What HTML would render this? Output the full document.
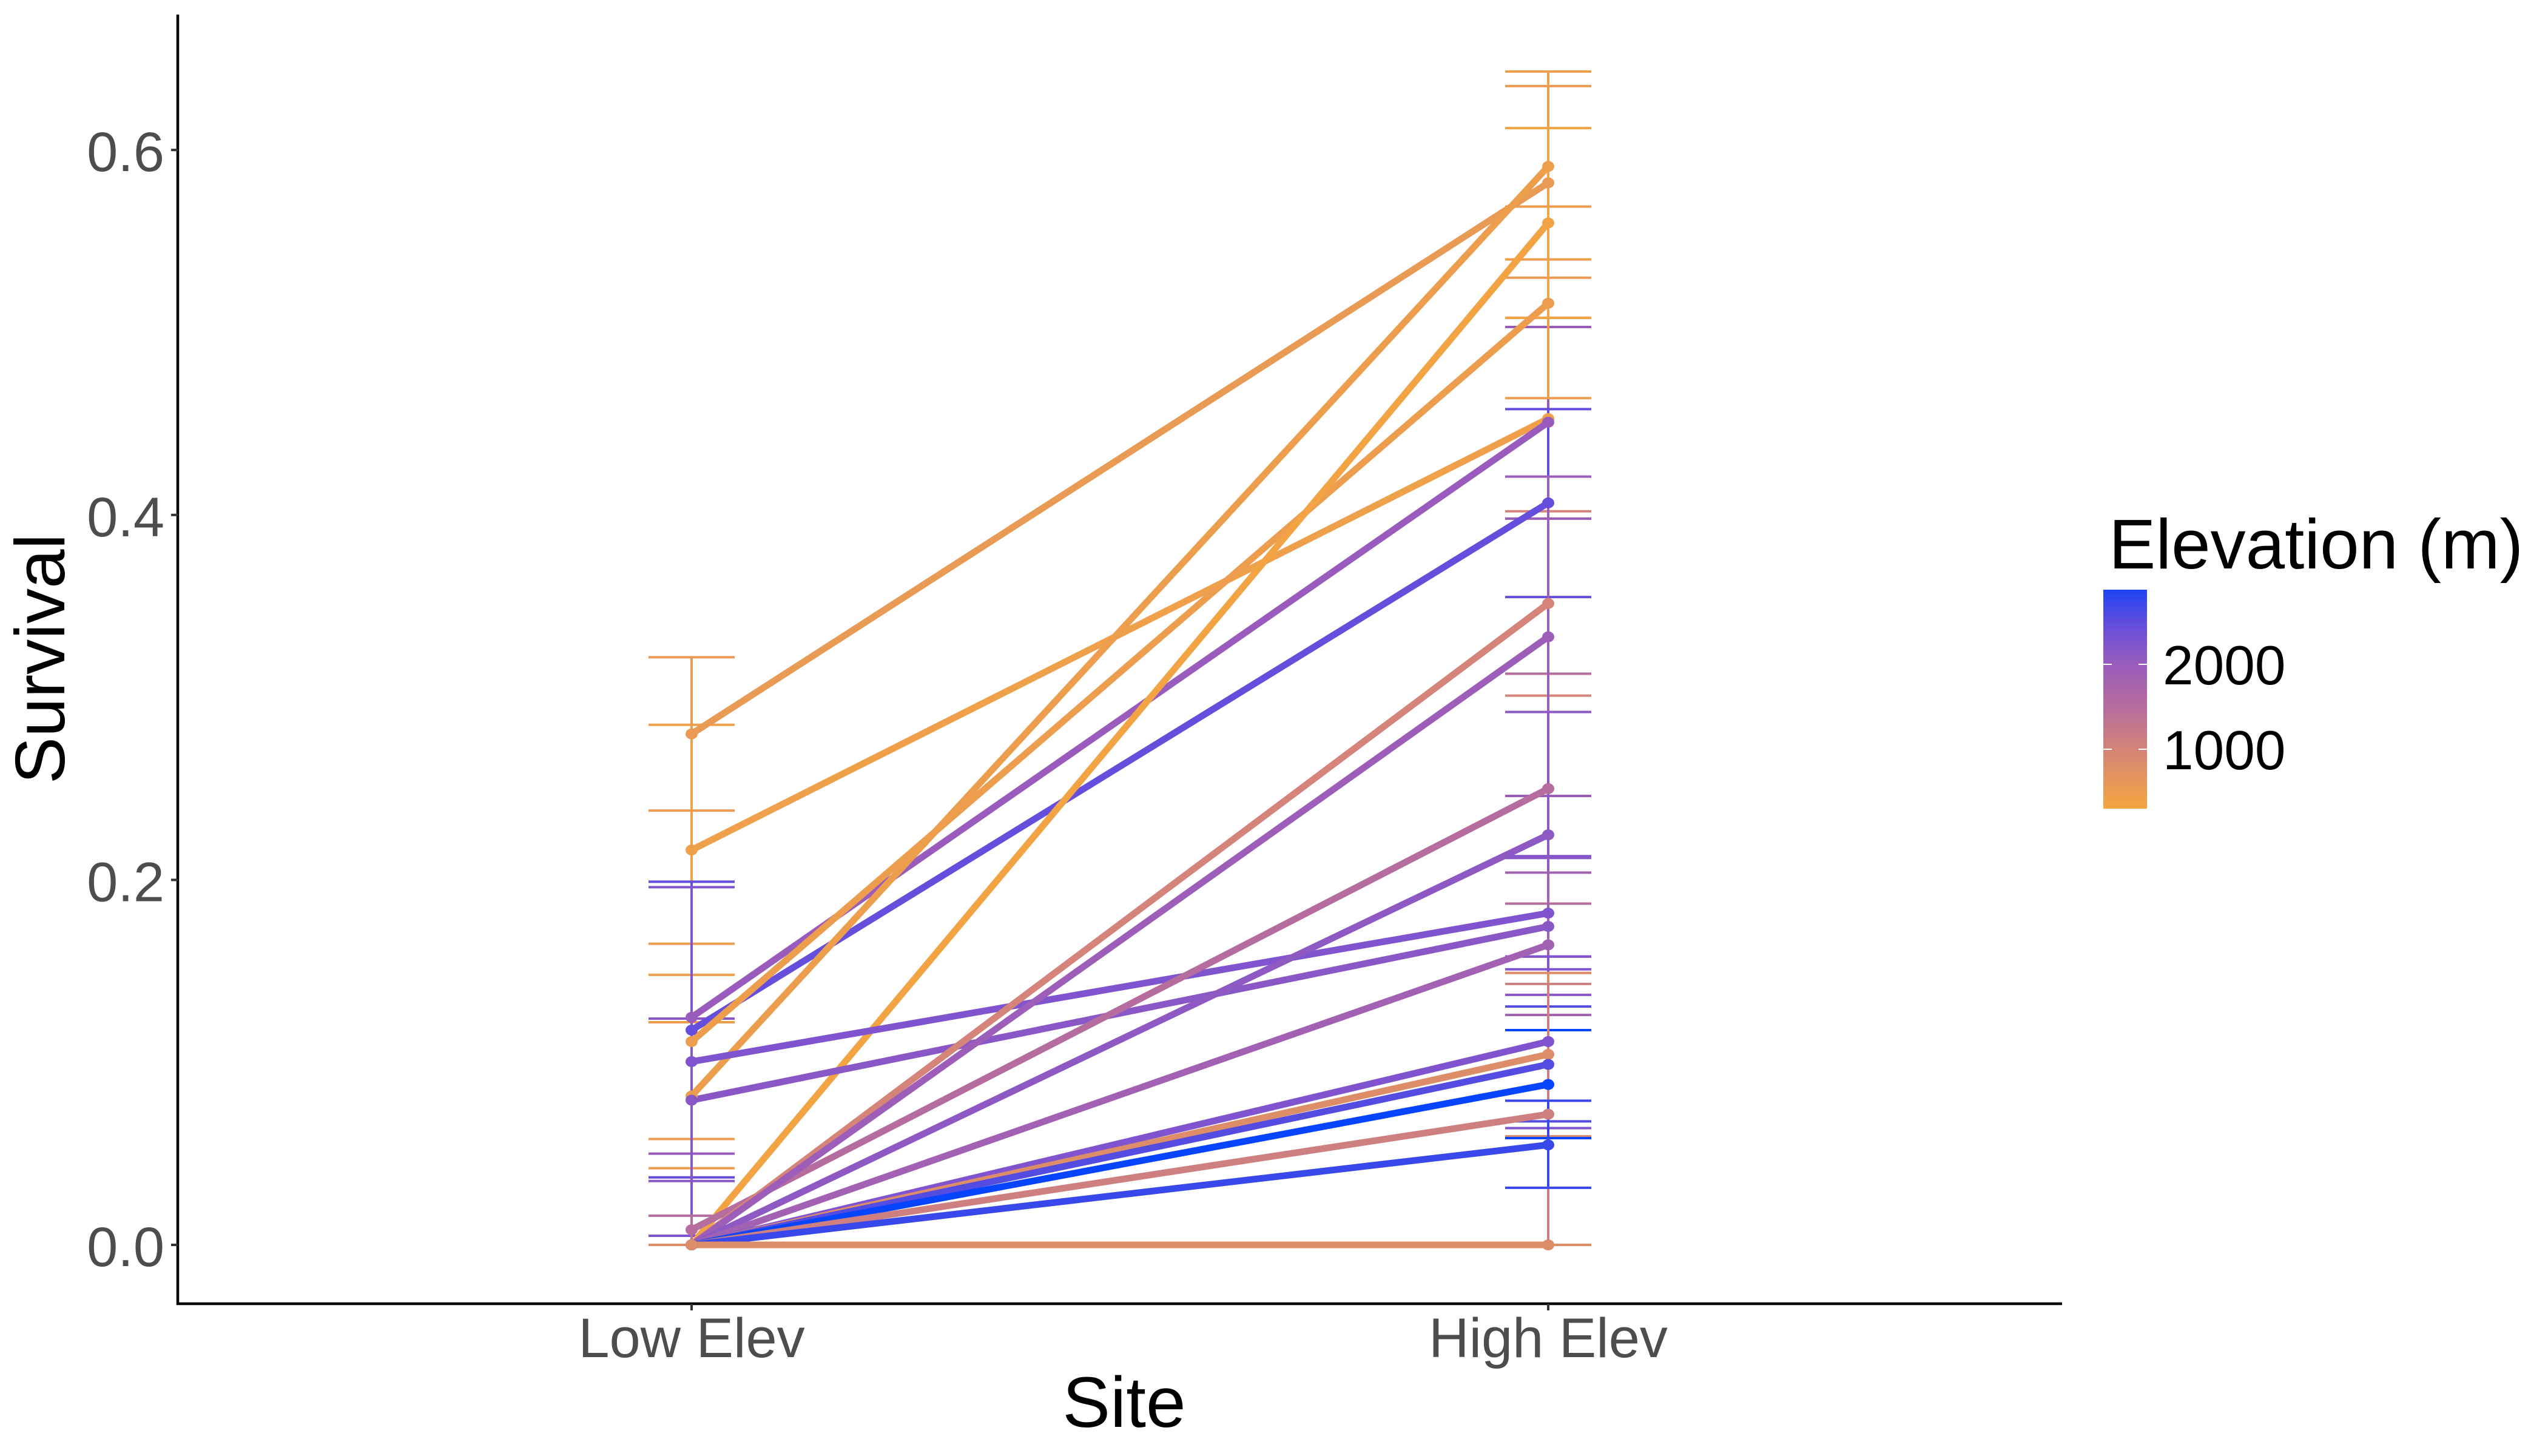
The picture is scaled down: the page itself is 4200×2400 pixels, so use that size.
<!DOCTYPE html>
<html><head><meta charset="utf-8"><style>
html,body{margin:0;padding:0;background:#fff;}
svg{display:block;font-family:"Liberation Sans",Arial,sans-serif;}
</style></head><body>
<svg id="chart" width="4200" height="2400" viewBox="0 0 4200 2400" xmlns="http://www.w3.org/2000/svg">
  <defs>
    <linearGradient id="cbar" x1="0" y1="1" x2="0" y2="0">
      <stop offset="0" stop-color="#f4a640"/>
      <stop offset="0.271" stop-color="#d48478"/>
      <stop offset="0.465" stop-color="#b56c9e"/>
      <stop offset="0.659" stop-color="#9a5cbc"/>
      <stop offset="0.814" stop-color="#6e4fd8"/>
      <stop offset="1" stop-color="#1f44f4"/>
    </linearGradient>
  </defs>
  <g id="errorbars"></g>
  <g id="lines"></g>
  <g id="points"></g>
  <g id="axes">
    <line x1="293" y1="24" x2="293" y2="2151" stroke="#000" stroke-width="4.5"/>
    <line x1="291" y1="2149" x2="3399" y2="2149" stroke="#000" stroke-width="4.5"/>
  </g>
  <g id="yticks"></g>
  <g id="xticks"></g>
  <text x="1853" y="2352" font-size="118" text-anchor="middle" fill="#000">Site</text>
  <text x="0" y="0" transform="translate(106,1086) rotate(-90)" font-size="116" text-anchor="middle" fill="#000">Survival</text>
  <g id="legend">
    <text x="3476" y="937" font-size="116" fill="#000">Elevation (m)</text>
    <rect x="3467" y="972" width="72" height="361" fill="url(#cbar)"/>
    <g id="legendticks"></g>
  </g>
</svg>
<script>
// ---- data ----
const categories = ["Low Elev", "High Elev"];
const yTickValues = [0.0, 0.2, 0.4, 0.6];
const yTickLabels = ["0.0", "0.2", "0.4", "0.6"];
const lowVals  = [0.280, 0.2164, 0.1247, 0.1177, 0.1114, 0.0816, 0, 0.1004, 0.0793, 0.0083, 0, 0, 0, 0, 0, 0, 0, 0, 0, 0, 0];
const highVals = [0.582, 0.4528, 0.4508, 0.4066, 0.516, 0.591, 0.560, 0.1818, 0.1745, 0.250, 0.3515, 0.3332, 0.2247, 0.1644, 0.1114, 0.1044, 0.0989, 0.0879, 0.0716, 0.0548, 0];
const elevations = [550, 420, 2000, 2450, 480, 460, 350, 2250, 2150, 1500, 1000, 1950, 2100, 1850, 2250, 800, 2550, 2890, 1100, 2700, 800];
const lowUpper  = [0.322, 0.285, 0.199, 0.199, 0.165, 0.122, 0, 0.196, 0.124, 0.016, 0, 0, 0, 0, 0, 0, 0, 0, 0, 0, 0];
const lowLower  = [0.238, 0.148, 0.050, 0.037, 0.058, 0.042, 0, 0.005, 0.035, 0, 0, 0, 0, 0, 0, 0, 0, 0, 0, 0, 0];
const highUpper = [0.635, 0.508, 0.503, 0.458, 0.569, 0.643, 0.612, 0.213, 0.212, 0.313, 0.402, 0.421, 0.292, 0.204, 0.158, 0.149, 0.1306, 0.1177, 0.143, 0.079, 0];
const highLower = [0.530, 0.398, 0.398, 0.355, 0.464, 0.540, 0.508, 0.151, 0.137, 0.187, 0.301, 0.246, 0.158, 0.126, 0.064, 0.0595, 0.0677, 0.0585, 0, 0.0313, 0];
const legendTickValues = [1000, 2000];
const legendTickLabels = ["1000", "2000"];

// ---- scales ----
const NS = "http://www.w3.org/2000/svg";
function xScale(i){ return 1140 + i * 1412; }
function yScale(v){ return 2052 - v * 3008; }
function legendY(e){ return 1095 - (e - 2000) * 0.14; }
const colorStops = [[300,[244,166,64]],[1000,[212,132,120]],[1500,[181,108,158]],[2000,[154,92,188]],[2400,[110,79,216]],[2850,[31,68,244]],[2900,[0,68,255]]];
function colorOf(e){
  if (e <= colorStops[0][0]) return "rgb(" + colorStops[0][1].join(",") + ")";
  for (let k = 1; k < colorStops.length; k++){
    if (e <= colorStops[k][0]){
      const a = colorStops[k-1], b = colorStops[k];
      const t = (e - a[0]) / (b[0] - a[0]);
      const c = a[1].map((v, j) => Math.round(v + (b[1][j] - v) * t));
      return "rgb(" + c.join(",") + ")";
    }
  }
  return "rgb(" + colorStops[colorStops.length-1][1].join(",") + ")";
}
function mk(tag, attrs, parent){
  const el = document.createElementNS(NS, tag);
  for (const k in attrs) el.setAttribute(k, attrs[k]);
  parent.appendChild(el);
  return el;
}

const gErr = document.getElementById("errorbars");
const gLines = document.getElementById("lines");
const gPts = document.getElementById("points");
const capHalf = 71;

for (let i = 0; i < lowVals.length; i++){
  const col = colorOf(elevations[i]);
  const sides = [[0, lowUpper[i], lowLower[i]], [1, highUpper[i], highLower[i]]];
  for (const s of sides){
    const x = xScale(s[0]);
    const yU = yScale(s[1]), yL = yScale(s[2]);
    const v = mk("line", {x1:x, x2:x, y1:yU, y2:yL, stroke:col, "stroke-width":4}, gErr);
    
    
    const c1 = mk("line", {x1:x-capHalf, x2:x+capHalf, y1:yU, y2:yU, stroke:col, "stroke-width":4}, gErr);
    
    
    const c2 = mk("line", {x1:x-capHalf, x2:x+capHalf, y1:yL, y2:yL, stroke:col, "stroke-width":4}, gErr);
    
    
  }
}
for (let i = 0; i < lowVals.length; i++){
  const col = colorOf(elevations[i]);
  const ln = mk("line", {x1:xScale(0), y1:yScale(lowVals[i]), x2:xScale(1), y2:yScale(highVals[i]), stroke:col, "stroke-width":11, "stroke-linecap":"butt"}, gLines);
  
  
}
for (let i = 0; i < lowVals.length; i++){
  const col = colorOf(elevations[i]);
  const p1 = mk("ellipse", {cx:xScale(0), cy:yScale(lowVals[i]), rx:10, ry:9, fill:col}, gPts);
  
  
  const p2 = mk("ellipse", {cx:xScale(1), cy:yScale(highVals[i]), rx:10, ry:9, fill:col}, gPts);
  
  
}

// y ticks
const gY = document.getElementById("yticks");
for (let i = 0; i < yTickValues.length; i++){
  const y = yScale(yTickValues[i]);
  const t = mk("line", {x1:282, x2:293, y1:y, y2:y, stroke:"#333", "stroke-width":4}, gY);
  
  
  const lb = mk("text", {x:271, y:y+35, "font-size":92, "text-anchor":"end", fill:"#4d4d4d"}, gY);
  lb.textContent = yTickLabels[i];
  
  
}
// x ticks
const gX = document.getElementById("xticks");
for (let i = 0; i < categories.length; i++){
  const x = xScale(i);
  const t = mk("line", {x1:x, x2:x, y1:2149, y2:2160, stroke:"#333", "stroke-width":4}, gX);
  
  
  const lb = mk("text", {x:x, y:2237, "font-size":92, "text-anchor":"middle", fill:"#4d4d4d"}, gX);
  lb.textContent = categories[i];
  
  
}
// legend ticks
const gL = document.getElementById("legendticks");
for (let i = 0; i < legendTickValues.length; i++){
  const y = legendY(legendTickValues[i]);
  const a = mk("line", {x1:3467, x2:3481, y1:y, y2:y, stroke:"#fff", "stroke-width":2}, gL);
  
  
  const b = mk("line", {x1:3525, x2:3539, y1:y, y2:y, stroke:"#fff", "stroke-width":2}, gL);
  
  
  const lb = mk("text", {x:3565, y:y+33, "font-size":91, fill:"#000"}, gL);
  lb.textContent = legendTickLabels[i];
  
  
}
</script>
</body></html>
